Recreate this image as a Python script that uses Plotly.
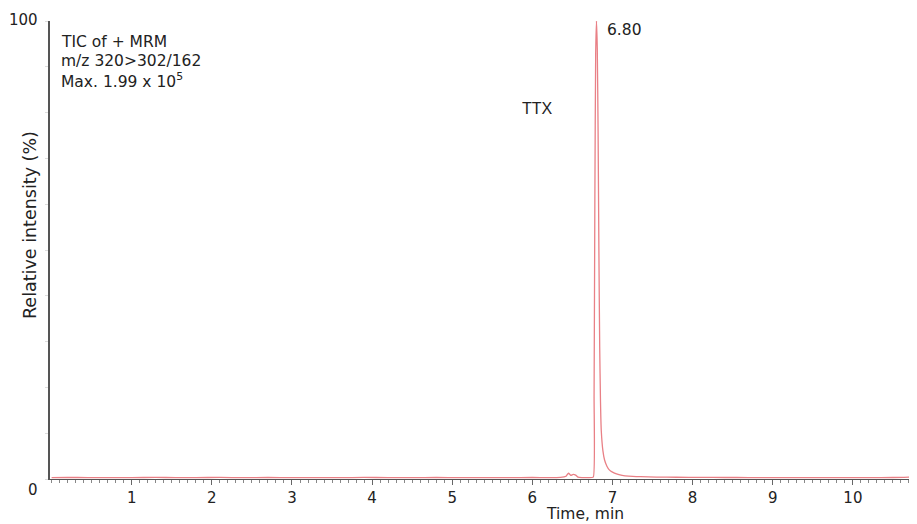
import plotly.graph_objects as go

# ---- data ----
time_min = [0.00, 0.20, 0.45, 0.70, 1.00, 1.30, 1.55, 1.80, 2.10, 2.40, 2.70, 3.00,
            3.30, 3.60, 3.90, 4.20, 4.50, 4.80, 5.10, 5.40, 5.70, 6.00, 6.20, 6.35,
            6.42, 6.45, 6.48, 6.51, 6.54, 6.57, 6.62, 6.70, 6.76, 6.77, 6.78, 6.79,
            6.80, 6.81, 6.82, 6.83, 6.84, 6.85, 6.86, 6.88, 6.90, 6.93, 6.96, 7.00,
            7.05, 7.12, 7.20, 7.35, 7.55, 7.80, 8.10, 8.40, 8.70, 9.00, 9.30, 9.60,
            9.90, 10.20, 10.50, 10.70, 10.80]
intensity = [0.30, 0.35, 0.30, 0.32, 0.30, 0.35, 0.30, 0.32, 0.34, 0.30, 0.33, 0.30,
             0.32, 0.30, 0.34, 0.31, 0.30, 0.33, 0.30, 0.32, 0.30, 0.33, 0.30, 0.35,
             0.60, 1.30, 0.80, 1.00, 0.85, 0.40, 0.32, 0.30, 0.40, 18.0, 62.0, 93.0,
             100.0, 94.0, 76.0, 50.0, 29.0, 17.0, 10.5, 6.2, 4.2, 2.8, 2.0, 1.5,
             1.1, 0.80, 0.62, 0.50, 0.42, 0.38, 0.35, 0.33, 0.32, 0.30, 0.32, 0.30,
             0.32, 0.30, 0.33, 0.40, 0.60]

x_tick_vals = [1, 2, 3, 4, 5, 6, 7, 8, 9, 10]
x_tick_text = ["1", "2", "3", "4", "5", "6", "7", "8", "9", "10"]
y_tick_vals = [0, 10, 20, 30, 40, 50, 60, 70, 80, 90, 100]
y_label_vals = [0, 100]
y_label_text = ["0", "100"]

info_lines = ["TIC of + MRM", "m/z 320>302/162", "Max. 1.99 x 10<sup>5</sup>"]
peak_rt_label = "6.80"
peak_rt = 6.80
compound = "TTX"

FONT = "DejaVu Sans, Verdana, sans-serif"
# page body has an 8px default margin; compensate so the plot lands where the reference has it
OFF = 8
VW, VH = 917, 524
W, H = VW - OFF, VH - OFF
PLOT_L, PLOT_R, PLOT_T, PLOT_B = 50, 917, 21, 479   # viewport pixels
ML, MR, MT = PLOT_L - OFF, 0, PLOT_T - OFF
pw = PLOT_R - PLOT_L
ph = PLOT_B - PLOT_T
MB = H - MT - ph

def px_x(px):
    return (px - PLOT_L) / pw

def px_y(py):
    return (PLOT_B - py) / ph

fig = go.Figure()
fig.add_trace(go.Scatter(
    x=time_min, y=intensity, mode="lines",
    line=dict(color="#e98086", width=1.3, shape="spline", smoothing=0.4),
    hoverinfo="skip", showlegend=False,
))

annotations = []
for i, t in enumerate(info_lines):
    annotations.append(dict(
        x=px_x(59), y=px_y(42 + 19 * i), xref="paper", yref="paper",
        text=t, showarrow=False, xanchor="left", yanchor="middle",
        font=dict(family=FONT, size=15.5, color="#222"),
    ))
annotations.append(dict(
    x=peak_rt + 0.11, y=98.0, xref="x", yref="y", text=peak_rt_label,
    showarrow=False, xanchor="left", yanchor="middle",
    font=dict(family=FONT, size=15.5, color="#222"),
))
annotations.append(dict(
    x=5.85, y=80.8, xref="x", yref="y", text=compound,
    showarrow=False, xanchor="left", yanchor="middle",
    font=dict(family="Liberation Sans, Arial, sans-serif", size=16, color="#222"),
))
# y axis value labels
y_label_px = {0: 490, 100: 20}
for v, t in zip(y_label_vals, y_label_text):
    annotations.append(dict(
        x=px_x(40), y=px_y(y_label_px[v]), xref="paper", yref="paper",
        text=t, showarrow=False, xanchor="right", yanchor="middle",
        font=dict(family=FONT, size=15, color="#222"),
    ))
# axis titles
annotations.append(dict(
    x=px_x(585), y=px_y(514), xref="paper", yref="paper", text="Time, min",
    showarrow=False, xanchor="center", yanchor="middle",
    font=dict(family=FONT, size=15.5, color="#222"),
))
annotations.append(dict(
    x=px_x(30), y=px_y(225), xref="paper", yref="paper", text="Relative intensity (%)",
    showarrow=False, xanchor="center", yanchor="middle", textangle=-90,
    font=dict(family=FONT, size=17.5, color="#222"),
))

fig.update_layout(
    width=W, height=H,
    margin=dict(l=ML, r=MR, t=MT, b=MB, pad=0),
    paper_bgcolor="white", plot_bgcolor="white",
    annotations=annotations,
    xaxis=dict(
        range=[-0.02, 10.80], showgrid=False, zeroline=False,
        showline=True, linecolor="#555", linewidth=1,
        tickmode="array", tickvals=x_tick_vals, ticktext=x_tick_text,
        ticks="outside", ticklen=5, tickcolor="#666", tickwidth=1,
        minor=dict(dtick=0.1, tick0=0, ticks="outside", ticklen=3, tickcolor="#888", tickwidth=1),
        tickfont=dict(family=FONT, size=15, color="#222"),
        ticklabelstandoff=0,
    ),
    yaxis=dict(
        range=[0, 100], showgrid=False, zeroline=False,
        showline=True, linecolor="#555", linewidth=1.5,
        tickmode="array", tickvals=y_tick_vals, showticklabels=False,
        ticks="outside", ticklen=3, tickcolor="#ddd", tickwidth=1,
    ),
)

fig.write_html("out.html")
